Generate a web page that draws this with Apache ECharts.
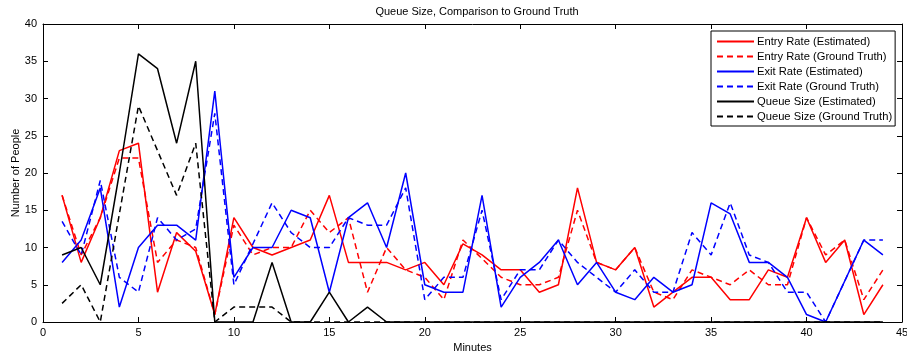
<!DOCTYPE html>
<html>
<head>
<meta charset="utf-8">
<script src="https://cdn.jsdelivr.net/npm/echarts@6/dist/echarts.min.js"></script>
<style>
html,body{margin:0;padding:0;background:#fff;}
#chart{width:907px;height:353px;}
</style>
</head>
<body>
<div id="chart"></div>
<script>
var minutes = [1,2,3,4,5,6,7,8,9,10,11,12,13,14,15,16,17,18,19,20,21,22,23,24,25,26,27,28,29,30,31,32,33,34,35,36,37,38,39,40,41,42,43,44];
var entryEst   = [17,8,14,23,24,4,12,9.5,1,14,10,9,10,11,17,8,8,8,7,8,5,10.5,9,7,7,4,5,18,8,7,10,2,4,6,6,3,3,7,6,14,8,11,1,5];
var entryTruth = [17,9,14,22,22,8,11,10,1,13,9,10,10,15,12,14,4,10,7,6,3,11,8.5,6,5,5,6,15,8,7,10,4,3,7,6,5,7,5,5,14,9,11,3,7];
var exitEst    = [8,11,18,2,10,13,13,11,31,6,10,10,15,14,4,14,16,10,20,5,4,4,17,2,6,8,11,5,8,4,3,6,4,5,16,14.5,8,8,6,1,0,5.5,11,9];
var exitTruth  = [13.5,9,19,6,4,14,11,12.5,28,5,10.5,16,12,10,10,14,13,13,18,3,6,6,15,3,7,7,11,8,6,4,7,4,4,12,9,16,9,8,4,4,0,5.5,11,11];
var queueEst   = [9,10,5,20,36,34,24,35,0,0,0,8,0,0,4,0,2,0,0,0,0,0,0,0,0,0,0,0,0,0,0,0,0,0,0,0,0,0,0,0,0,0,0,0];
var queueTruth = [2.5,5,0,14.5,29,23,17,24,0,2,2,2,0,0,0,0,0,0,0,0,0,0,0,0,0,0,0,0,0,0,0,0,0,0,0,0,0,0,0,0,0,0,0,0];
var xTicks = [0,5,10,15,20,25,30,35,40,45];
var yTicks = [0,5,10,15,20,25,30,35,40];

var seriesDefs = [
  {name:'Entry Rate (Estimated)', data:entryEst, color:'#ff0000', type:'solid'},
  {name:'Entry Rate (Ground Truth)', data:entryTruth, color:'#ff0000', type:[6,4]},
  {name:'Exit Rate (Estimated)', data:exitEst, color:'#0000ff', type:'solid'},
  {name:'Exit Rate (Ground Truth)', data:exitTruth, color:'#0000ff', type:[6,4]},
  {name:'Queue Size (Estimated)', data:queueEst, color:'#000000', type:'solid'},
  {name:'Queue Size (Ground Truth)', data:queueTruth, color:'#000000', type:[6,4]}
];

var font = 'Arial, "Liberation Sans", sans-serif';
var chart = echarts.init(document.getElementById('chart'), null, {renderer:'canvas'});
var axisCommon = {
  type:'value',
  axisLine:{show:true, onZero:false, lineStyle:{color:'#000', width:1}},
  axisTick:{show:true, inside:true, length:5, lineStyle:{color:'#000'}},
  splitLine:{show:false}
};
var option = {
  backgroundColor:'#fff',
  animation:false,
  title:{
    text:'Queue Size, Comparison to Ground Truth',
    left:472, top:1, textAlign:'center',
    textStyle:{fontFamily:font, fontSize:11, fontWeight:'normal', color:'#000'}
  },
  grid:{left:43, right:5, top:24, bottom:31, containLabel:false, outerBoundsMode:'none'},
  legend:{
    orient:'vertical', left:711, top:31,
    backgroundColor:'#fff', borderColor:'#000', borderWidth:1,
    padding:[5,3,4,5], itemGap:4, itemWidth:37, itemHeight:12,
    itemStyle:{opacity:0},
    textStyle:{fontFamily:font, fontSize:11.2, color:'#000', padding:[0,0,0,-2]},
    data:seriesDefs.map(function(s){return s.name;})
  },
  xAxis:[
    Object.assign({}, axisCommon, {
      position:'bottom', min:0, max:45, interval:5,
      name:'Minutes', nameLocation:'middle', nameGap:20, nameMoveOverlap:false,
      nameTextStyle:{fontFamily:font, fontSize:11, color:'#000'},
      axisLabel:{fontFamily:font, fontSize:11, color:'#000', margin:5,
        customValues:xTicks, formatter:function(v){return String(v);}},
      axisTick:{show:true, inside:true, length:5, lineStyle:{color:'#000'}, customValues:xTicks}
    }),
    Object.assign({}, axisCommon, {
      position:'top', min:0, max:45, interval:5, axisLabel:{show:false}
    })
  ],
  yAxis:[
    Object.assign({}, axisCommon, {
      position:'left', min:0, max:40, interval:5,
      name:'Number of People', nameLocation:'middle', nameGap:22, nameRotate:90, nameMoveOverlap:false,
      nameTextStyle:{fontFamily:font, fontSize:11, color:'#000'},
      axisLabel:{fontFamily:font, fontSize:11, color:'#000', margin:6,
        customValues:yTicks, formatter:function(v){return String(v);}},
      axisTick:{show:true, inside:true, length:5, lineStyle:{color:'#000'}, customValues:yTicks}
    }),
    Object.assign({}, axisCommon, {
      position:'right', min:0, max:40, interval:5, axisLabel:{show:false}
    })
  ],
  series:seriesDefs.map(function(s){
    return {
      name:s.name, type:'line', xAxisIndex:0, yAxisIndex:0,
      data:minutes.map(function(m,i){return [m, s.data[i]];}),
      symbol:'none', showSymbol:false,
      color:s.color,
      lineStyle:{color:s.color, width:1.5, type:s.type},
      emphasis:{disabled:true}
    };
  })
};
chart.setOption(option);
</script>
</body>
</html>
